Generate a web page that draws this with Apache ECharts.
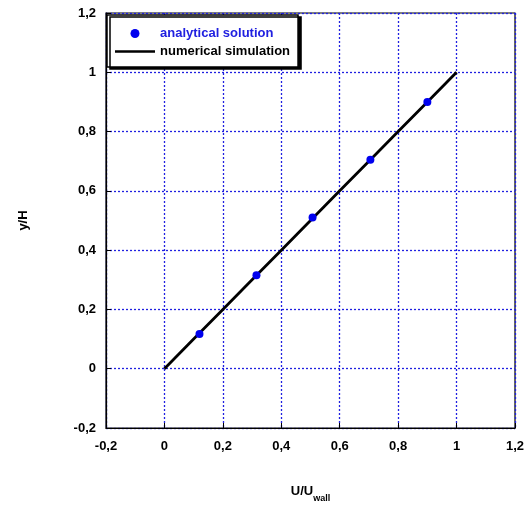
<!DOCTYPE html>
<html><head><meta charset="utf-8">
<script src="https://cdn.jsdelivr.net/npm/echarts@6/dist/echarts.min.js"></script>
<style>html,body{margin:0;padding:0;background:#fff}#c{width:528px;height:508px}</style>
</head><body><div id="c"></div>
<script>
const FONT = '"Liberation Sans Narrow", "Liberation Sans", Arial, sans-serif';
const xTicks = [-0.2, 0, 0.2, 0.4, 0.6, 0.8, 1, 1.2];
const yTicks = [-0.2, 0, 0.2, 0.4, 0.6, 0.8, 1, 1.2];
const analyticalX = [0.12, 0.315, 0.507, 0.705, 0.90];
const analyticalY = [0.117, 0.315, 0.51, 0.705, 0.90];
const numericalX = [0, 0.1, 0.2, 0.3, 0.4, 0.5, 0.6, 0.7, 0.8, 0.9, 1.0];
const numericalY = [0, 0.1, 0.2, 0.3, 0.4, 0.5, 0.6, 0.7, 0.8, 0.9, 1.0];

const fmt = v => String(Math.round(v * 10) / 10).replace('.', ',');
const chart = echarts.init(document.getElementById('c'));
chart.setOption({
  animation: false,
  grid: { left: 106, right: 13, top: 13, bottom: 78, show: true, borderColor: '#000', borderWidth: 1.2 },
  legend: {
    left: 107, top: 15, orient: 'vertical',
    backgroundColor: '#fff', borderColor: '#000', borderWidth: 1.5,
    shadowColor: '#000', shadowOffsetX: 3, shadowOffsetY: 2, shadowBlur: 0,
    padding: [11, 8, 8, 8], itemGap: 3, itemWidth: 40, itemHeight: 9,
    textStyle: { fontFamily: FONT, fontWeight: 'bold', fontSize: 13, lineHeight: 15 },
    data: [
      { name: 'analytical solution', icon: 'circle', textStyle: { color: '#2020e0' } },
      { name: 'numerical simulation', icon: 'path://M0,0L40,0L40,2.6L0,2.6Z', textStyle: { color: '#000' } }
    ]
  },
  xAxis: {
    type: 'value', min: xTicks[0], max: xTicks[xTicks.length - 1], interval: 0.2,
    name: '{a|U/U}{b|wall}', nameLocation: 'middle', nameGap: 52,
    nameTextStyle: {
      rich: {
        a: { fontFamily: FONT, fontWeight: 'bold', fontSize: 13, color: '#000' },
        b: { fontFamily: FONT, fontWeight: 'bold', fontSize: 9, color: '#000', padding: [14, 0, 0, 0] }
      }
    },
    axisLine: { show: true, onZero: false, lineStyle: { color: '#000', width: 1.2 } },
    axisTick: { show: true, inside: true, length: 5, lineStyle: { color: '#000' } },
    axisLabel: { formatter: fmt, margin: 12, fontFamily: FONT, fontWeight: 'bold', fontSize: 13, color: '#000' },
    splitLine: { show: true, lineStyle: { color: '#2020e0', type: [2, 2], width: 1.3 } }
  },
  yAxis: {
    type: 'value', min: yTicks[0], max: yTicks[yTicks.length - 1], interval: 0.2,
    name: 'y/H', nameLocation: 'middle', nameGap: 76, nameRotate: 90,
    nameTextStyle: { fontFamily: FONT, fontWeight: 'bold', fontSize: 13, color: '#000' },
    axisLine: { show: true, onZero: false, lineStyle: { color: '#000', width: 1.2 } },
    axisTick: { show: true, inside: true, length: 5, lineStyle: { color: '#000' } },
    axisLabel: { formatter: fmt, margin: 10, fontFamily: FONT, fontWeight: 'bold', fontSize: 13, color: '#000' },
    splitLine: { show: true, lineStyle: { color: '#2020e0', type: [2, 2], width: 1.3 } }
  },
  series: [
    {
      name: 'numerical simulation', type: 'line', symbol: 'none', z: 2,
      data: numericalX.map((x, i) => [x, numericalY[i]]),
      lineStyle: { color: '#000', width: 2.8 }, itemStyle: { color: '#000' }
    },
    {
      name: 'analytical solution', type: 'scatter', symbol: 'circle', symbolSize: 8, z: 3,
      data: analyticalX.map((x, i) => [x, analyticalY[i]]),
      itemStyle: { color: '#0000ee', opacity: 1 }
    }
  ]
});
</script></body></html>
